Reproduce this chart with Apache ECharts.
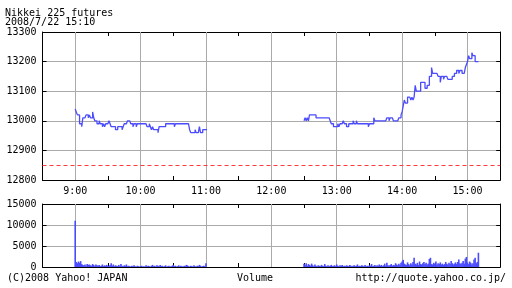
<!DOCTYPE html>
<html>
<head>
<meta charset="utf-8">
<script src="https://cdn.jsdelivr.net/npm/echarts@6/dist/echarts.min.js"></script>
<style>
html,body{margin:0;padding:0;background:#fff;}
#c{width:512px;height:288px;}
</style>
</head>
<body>
<div id="c"></div>
<script>
// ---- data ----
const titleLine1 = 'Nikkei 225 futures';
const titleLine2 = '2008/7/22 15:10';
const footerLeft = '(C)2008 Yahoo! JAPAN';
const footerMid = 'Volume';
const footerRight = 'http://quote.yahoo.co.jp/';

const hourTicks = [9, 10, 11, 12, 13, 14, 15];
const prevClose = 12850;

const morningStartMin = 540;   // 9:00
const afternoonStartMin = 750; // 12:30

const morningPrice = [
  13040,13030,13020,13020,12990,12990,12980,13010,13010,13010,
  13020,13020,13010,13020,13010,13010,13030,13010,13000,13000,
  12990,12990,13000,12990,12990,12980,12990,12980,12990,12990,
  12990,13000,12990,12980,12980,12980,12980,12970,12970,12980,
  12980,12980,12980,12970,12980,12990,12990,12990,13000,13000,
  13000,12990,12990,12980,12990,12990,12980,12990,12990,12990,
  12990,12990,12990,12990,12990,12990,12980,12980,12990,12980,
  12970,12980,12970,12970,12970,12970,12960,12980,12980,12980,
  12980,12980,12980,12990,12990,12990,12990,12990,12990,12990,
  12990,12980,12990,12990,12990,12990,12990,12990,12990,12990,
  12990,12990,12990,12990,12990,12970,12960,12960,12960,12960,
  12970,12960,12960,12960,12980,12960,12960,12970,12970,12970,
  12970
];

const afternoonPrice = [
  13000,13010,13000,13010,13000,13020,13020,13020,13020,13020,
  13020,13010,13010,13010,13010,13010,13010,13010,13010,13010,
  13010,13010,13010,13010,13000,12990,12990,12980,12980,12980,
  12980,12990,12980,12990,12990,12990,13000,12990,12990,12980,
  12980,12990,12990,12990,12990,13000,12990,12990,13000,12990,
  12990,12990,12990,12990,12990,12990,12990,12990,12990,12980,
  12990,12990,12990,12990,13010,13000,13000,13000,13000,13000,
  13000,13000,13000,13000,13000,13000,13010,13010,13000,13010,
  13010,13010,13000,13000,13000,13000,13000,13010,13010,13020,
  13030,13050,13070,13060,13060,13080,13080,13080,13070,13080,
  13070,13080,13120,13100,13100,13100,13100,13130,13130,13130,
  13130,13110,13110,13120,13120,13150,13150,13180,13160,13160,
  13160,13160,13160,13150,13150,13130,13150,13150,13140,13150,
  13150,13150,13140,13140,13140,13140,13150,13150,13160,13160,
  13170,13170,13160,13170,13170,13160,13160,13160,13180,13190,
  13200,13220,13210,13210,13230,13220,13220,13200,13200,13200,
  13200
];

const morningVolume = [
  11000,1200,900,1300,1000,1400,700,500,400,600,
  300,700,500,600,400,300,700,500,200,600,
  400,300,500,200,300,600,200,400,300,500,
  200,300,400,900,300,600,200,400,300,200,
  500,200,700,300,200,400,300,600,200,300,
  200,100,300,200,400,200,100,300,200,100,
  200,300,100,200,100,400,200,300,200,100,
  300,500,200,300,100,400,300,200,500,200,
  300,100,200,400,100,200,300,100,200,300,
  500,200,300,100,200,400,100,300,200,100,
  300,200,500,400,200,100,300,200,100,400,
  200,100,300,200,500,300,100,200,300,200,
  900
];

const afternoonVolume = [
  800,400,900,300,700,500,300,800,400,200,
  600,300,200,400,300,200,500,300,200,700,
  300,200,400,200,300,500,200,300,400,200,
  600,300,200,400,300,500,200,300,200,400,
  300,200,500,300,200,300,400,200,300,600,
  200,300,200,400,300,200,500,200,300,200,
  400,300,700,200,300,500,200,400,300,600,
  300,500,200,400,800,300,1000,400,300,500,
  700,300,500,400,900,600,400,800,500,1000,
  1300,1700,800,600,500,1100,700,400,900,600,
  1200,2200,800,600,1000,500,1300,700,600,900,
  1200,700,1000,600,800,1900,2200,700,600,1000,
  800,1300,600,900,700,1100,600,800,500,700,
  1200,800,600,1000,700,1400,900,600,800,1100,
  700,1200,1800,900,700,1000,1400,800,2000,2400,
  1100,700,1300,1000,600,900,1800,2200,900,1200,
  3400
];

// ---- build series data ----
const priceData = morningPrice.map((v, i) => [morningStartMin + i, v])
  .concat([[morningStartMin + morningPrice.length, null]])
  .concat(afternoonPrice.map((v, i) => [afternoonStartMin + i, v]));
const volumeData = morningVolume.map((v, i) => [morningStartMin + i, v])
  .concat(afternoonVolume.map((v, i) => [afternoonStartMin + i, v]));

const FONT = 'DejaVu Sans Mono';
const BLUE = '#4b4bff';
const GRID = '#aaaaaa';
const hourLines = hourTicks.map(h => ({ xAxis: h * 60 }));

function xAxisDef(gridIndex, position, showLabels) {
  return {
    type: 'value', gridIndex, position, min: 510, max: 930, interval: 30,
    axisLine: { show: true, onZero: false, lineStyle: { color: '#000', width: 1 } },
    axisTick: { show: true, inside: true, length: 4, lineStyle: { color: '#000' } },
    axisLabel: {
      show: showLabels, margin: 6, fontFamily: FONT, fontSize: 10, color: '#000',
      formatter: v => (v % 60 === 0 && hourTicks.indexOf(v / 60) >= 0) ? (v / 60) + ':00' : ''
    },
    splitLine: { show: false }
  };
}
function yAxisDef(gridIndex, position, min, max, interval, showLabels) {
  return {
    type: 'value', gridIndex, position, min, max, interval,
    axisLine: { show: true, onZero: false, lineStyle: { color: '#000', width: 1 } },
    axisTick: { show: true, inside: true, length: 4, lineStyle: { color: '#000' } },
    axisLabel: { show: showLabels, margin: 6, fontFamily: FONT, fontSize: 10, color: '#000',
      formatter: v => String(v) },
    splitLine: { show: showLabels, showMinLine: false, showMaxLine: false, lineStyle: { color: GRID, width: 1 } }
  };
}

const txtFont = '10px "DejaVu Sans Mono"';
const chart = echarts.init(document.getElementById('c'), null, { renderer: 'canvas' });
chart.setOption({
  animation: false,
  backgroundColor: '#fff',
  grid: [
    { left: 42.5, top: 32, width: 457.7, height: 148, containLabel: false, outerBoundsMode: 'none' },
    { left: 42.5, top: 204, width: 457.7, height: 63, containLabel: false, outerBoundsMode: 'none' }
  ],
  xAxis: [
    xAxisDef(0, 'bottom', true),
    xAxisDef(0, 'top', false),
    xAxisDef(1, 'bottom', false),
    xAxisDef(1, 'top', false)
  ],
  yAxis: [
    yAxisDef(0, 'left', 12800, 13300, 100, true),
    yAxisDef(0, 'right', 12800, 13300, 100, false),
    yAxisDef(1, 'left', 0, 15000, 5000, true),
    yAxisDef(1, 'right', 0, 15000, 5000, false)
  ],
  graphic: [
    { type: 'text', left: 5, top: 8, style: { text: titleLine1, font: txtFont, fill: '#000' } },
    { type: 'text', left: 5, top: 17, style: { text: titleLine2, font: txtFont, fill: '#000' } },
    { type: 'text', left: 7, top: 273, style: { text: footerLeft, font: txtFont, fill: '#000' } },
    { type: 'text', left: 237, top: 273, style: { text: footerMid, font: txtFont, fill: '#000' } },
    { type: 'text', right: 6, top: 273, style: { text: footerRight, font: txtFont, fill: '#000' } }
  ],
  series: [
    {
      type: 'line', xAxisIndex: 0, yAxisIndex: 0, data: [], silent: true, z: 1,
      markLine: { silent: true, z: 1, symbol: ['none', 'none'], label: { show: false },
        lineStyle: { color: GRID, type: 'solid', width: 1 }, data: hourLines }
    },
    {
      type: 'line', xAxisIndex: 2, yAxisIndex: 2, data: [], silent: true, z: 1,
      markLine: { silent: true, z: 1, symbol: ['none', 'none'], label: { show: false },
        lineStyle: { color: GRID, type: 'solid', width: 1 }, data: hourLines }
    },
    {
      name: 'price', type: 'line', xAxisIndex: 0, yAxisIndex: 0, data: priceData,
      step: 'end', showSymbol: false, connectNulls: false, z: 3,
      lineStyle: { color: BLUE, width: 1.3 },
      markLine: { silent: true, z: 2, symbol: ['none', 'none'], label: { show: false },
        lineStyle: { color: '#ff3b3b', type: [4, 3], width: 1.2, opacity: 1 },
        data: [{ yAxis: prevClose, lineStyle: { color: '#ff3b3b' } }] }
    },
    {
      name: 'volume', type: 'bar', xAxisIndex: 2, yAxisIndex: 2, data: volumeData,
      barWidth: 1.6, itemStyle: { color: BLUE }, z: 3
    }
  ]
});
</script>
</body>
</html>
